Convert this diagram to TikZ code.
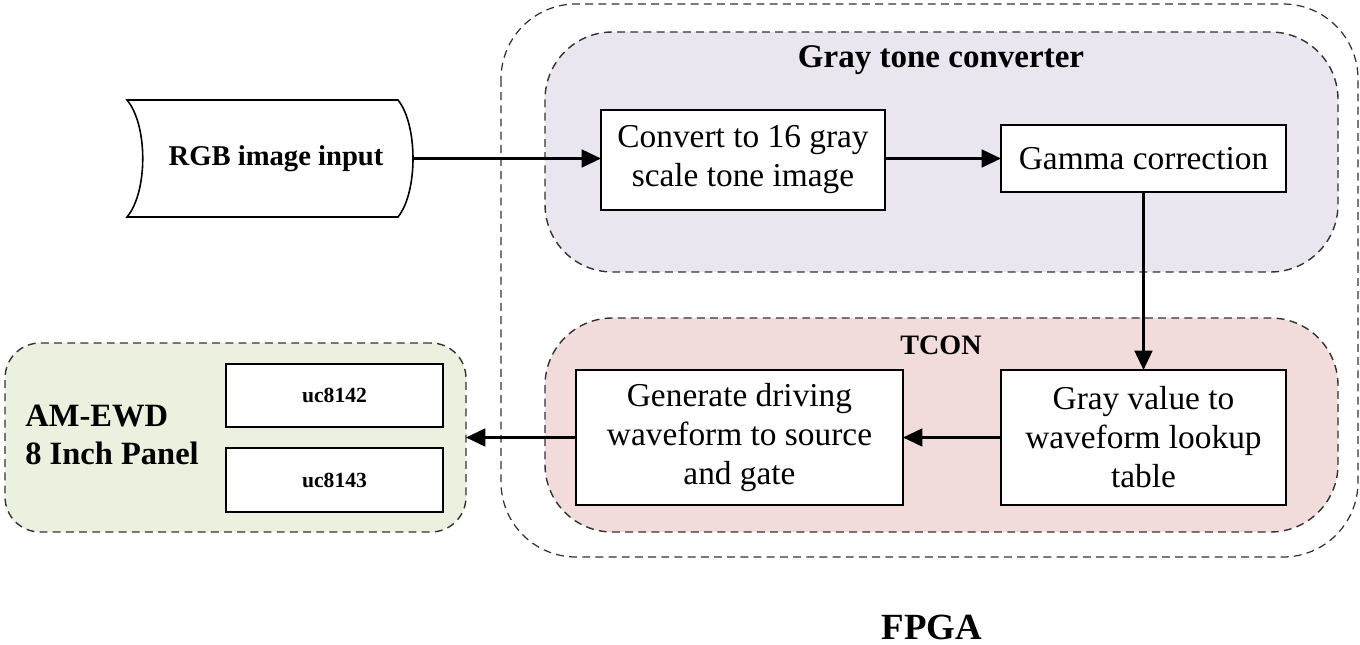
\documentclass[tikz,border=0pt]{standalone}
\usepackage{fontspec}
\setmainfont{Liberation Serif}
\usetikzlibrary{arrows.meta}
\definecolor{lav}{RGB}{233,230,240}
\definecolor{pinkbg}{RGB}{242,220,219}
\definecolor{greenbg}{RGB}{235,241,222}
\definecolor{dashgray}{RGB}{50,50,50}
\tikzset{
  proc/.style={draw=black, line width=0.9pt, fill=white, inner sep=0pt, outer sep=0pt, align=center,
    font=\fontsize{19}{22.2}\selectfont},
  ucbox/.style={draw=black, line width=0.9pt, fill=white, inner sep=0pt, outer sep=0pt,
    minimum width=4.34cm, minimum height=1.27cm, font=\fontsize{12.3}{14}\selectfont\bfseries},
  group/.style={draw=dashgray, dashed, dash pattern=on 4.5pt off 3pt, line width=0.8pt},
  flow/.style={draw=black, line width=1.7pt, -{Triangle[length=11pt,width=10pt]}},
  lbl/.style={inner sep=0pt, font=\bfseries}
}
\begin{document}
\begin{tikzpicture}[x=0.02cm,y=-0.02cm]
\useasboundingbox (0,0) rectangle (1360,645);
% FPGA outer
\draw[group, line width=0.7pt, rounded corners=1.5cm] (501,4) rectangle (1358,557);
% Gray tone converter
\draw[group, fill=lav, rounded corners=1.35cm] (545,32) rectangle (1338,272);
\node[lbl, font=\fontsize{18.8}{22}\selectfont\bfseries] (gtc) at (941,60) {Gray tone converter};
% TCON
\draw[group, fill=pinkbg, rounded corners=1.35cm] (545,318) rectangle (1338,532);
\node[lbl, font=\fontsize{16}{19}\selectfont\bfseries] (tcon) at (941,345) {TCON};
% AM-EWD panel
\node[group, fill=greenbg, rounded corners=0.7cm, minimum width=9.22cm, minimum height=3.78cm, outer sep=0pt] (panel) at (235.5,437.5) {};
\node[lbl, font=\fontsize{18.5}{21.6}\selectfont\bfseries, align=left, anchor=west] (paneltxt) at (25,435) {AM-EWD\\8 Inch Panel};
\node[ucbox] (uca) at (334.5,395.5) {uc8142};
\node[ucbox] (ucb) at (334.5,480) {uc8143};
% RGB input shape
\draw[line width=0.9pt, fill=white] (127,100) -- (398,100) .. controls (418,125) and (418,192) .. (398,217) -- (127,217) .. controls (148,192) and (148,125) .. cycle;
\node[lbl, font=\fontsize{16.3}{19}\selectfont\bfseries] (rgb) at (276,159) {RGB image input};
\node[inner sep=0pt, outer sep=0pt, minimum size=0pt] (rgbout) at (413,158.5) {};
% process boxes
\node[proc, minimum width=5.68cm, minimum height=2.0cm] (conv) at (743,160) {Convert to 16 gray\\scale tone image};
\node[proc, minimum width=5.7cm, minimum height=1.34cm] (gamma) at (1143.5,158.5) {Gamma correction};
\node[proc, minimum width=5.7cm, minimum height=2.7cm] (lut) at (1143.5,437.5) {Gray value to\\waveform lookup\\table};
\node[proc, minimum width=6.54cm, minimum height=2.7cm] (gen) at (739.5,437.5) {Generate driving\\waveform to source\\and gate};
% FPGA label
\node[lbl, font=\fontsize{21}{24}\selectfont\bfseries] (fpga) at (932,627) {FPGA};
% connectors
\draw[flow] (rgbout.center) -- (conv.west |- rgbout.center);
\draw[flow] (conv.east |- gamma.west) -- (gamma.west);
\draw[flow] (gamma.south) -- (lut.north);
\draw[flow] (lut.west) -- (gen.east);
\draw[flow] (gen.west) -- (panel.east);
\end{tikzpicture}
\end{document}
